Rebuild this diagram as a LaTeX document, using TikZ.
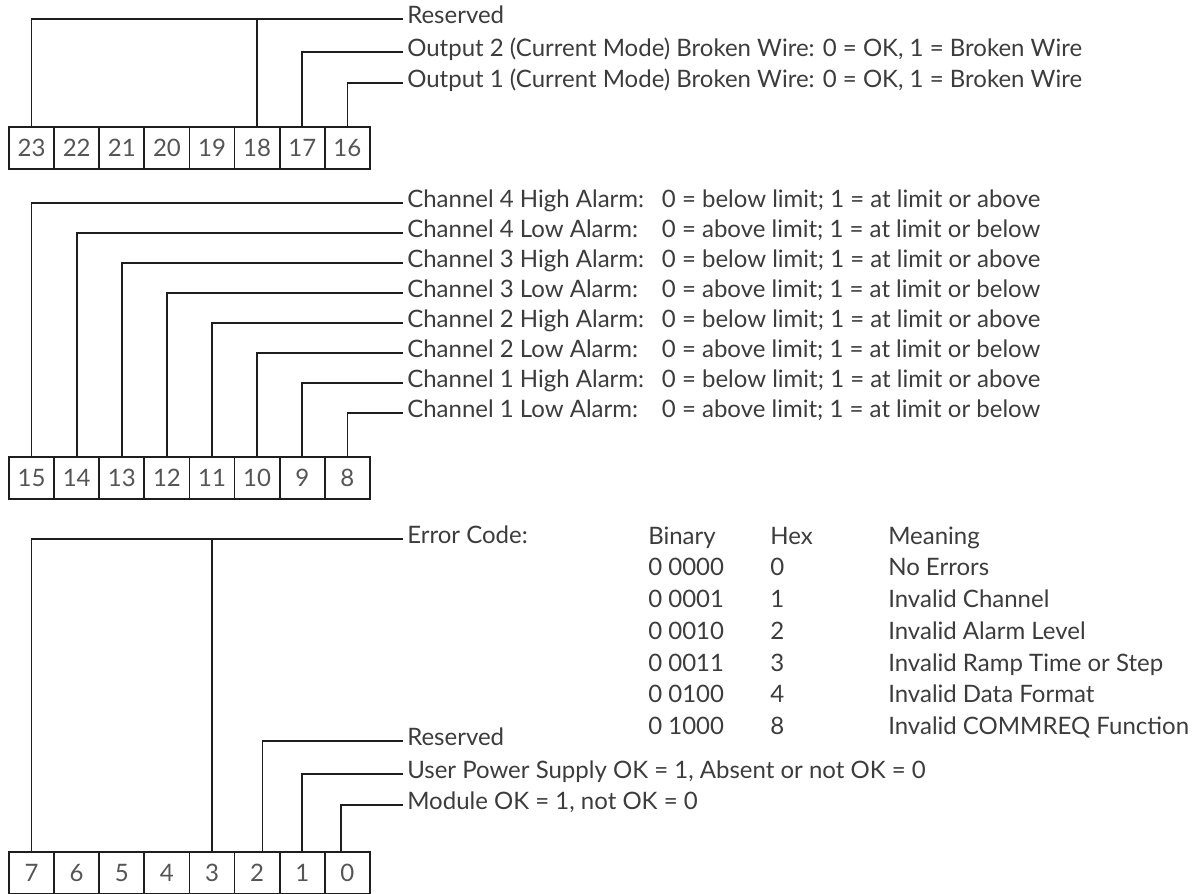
\documentclass[tikz,border=0pt]{standalone}
\usepackage{fontspec}
\setmainfont{Lato}
\usepackage{tikz}
\usetikzlibrary{positioning}
\definecolor{ctexto}{HTML}{3C3C3C}
\definecolor{clinea}{HTML}{1E1E1E}
\definecolor{cnum}{HTML}{555555}
\newcommand{\alarma}[2]{\makebox[191pt][l]{#1}#2}
\tikzset{
  bit/.style={rectangle, draw=clinea, line width=1.3pt, minimum width=33.84pt,
    minimum height=31.5pt, inner sep=0pt, outer sep=0pt, text=cnum,
    font=\fontsize{18}{20}\selectfont},
  etq/.style={anchor=west, inner sep=3pt, text=ctexto, text height=0.72em,
    text depth=0pt, font=\fontsize{18}{20}\selectfont},
  tabla/.style={anchor=west, inner sep=0pt, text=ctexto,
    font=\fontsize{18}{23.8pt}\selectfont},
  linea/.style={draw=clinea, line width=1.3pt},
}
\begin{document}
\begin{tikzpicture}[x=0.75pt, y=-0.75pt]
  \useasboundingbox (0,0) rectangle (1196,893);
  \node[bit, anchor=north west] (b23) at (9,127) {23};
  \node[bit, right=0pt of b23] (b22) {22}; \node[bit, right=0pt of b22] (b21) {21};
  \node[bit, right=0pt of b21] (b20) {20}; \node[bit, right=0pt of b20] (b19) {19};
  \node[bit, right=0pt of b19] (b18) {18}; \node[bit, right=0pt of b18] (b17) {17};
  \node[bit, right=0pt of b17] (b16) {16};
  \node[etq] (l23) at (403,19) {Reserved};
  \node[etq] (l17) at (403,52) {Output 2 (Current Mode) Broken Wire: 0 = OK, 1 = Broken Wire};
  \node[etq] (l16) at (403,83) {Output 1 (Current Mode) Broken Wire: 0 = OK, 1 = Broken Wire};
  \draw[linea] (b23.north) |- (l23.west); \draw[linea] (b18.north) -- (b18.north |- l23.west);
  \draw[linea] (b17.north) |- (l17.west); \draw[linea] (b16.north) |- (l16.west);

  \node[bit, anchor=north west] (b15) at (9,457) {15};
  \node[bit, right=0pt of b15] (b14) {14}; \node[bit, right=0pt of b14] (b13) {13};
  \node[bit, right=0pt of b13] (b12) {12}; \node[bit, right=0pt of b12] (b11) {11};
  \node[bit, right=0pt of b11] (b10) {10}; \node[bit, right=0pt of b10] (b9) {9};
  \node[bit, right=0pt of b9] (b8) {8};
  \node[etq] (l15) at (403,203) {\alarma{Channel 4 High Alarm:}{0 = below limit; 1 = at limit or above}};
  \node[etq] (l14) at (403,233) {\alarma{Channel 4 Low Alarm:}{0 = above limit; 1 = at limit or below}};
  \node[etq] (l13) at (403,263) {\alarma{Channel 3 High Alarm:}{0 = below limit; 1 = at limit or above}};
  \node[etq] (l12) at (403,293) {\alarma{Channel 3 Low Alarm:}{0 = above limit; 1 = at limit or below}};
  \node[etq] (l11) at (403,323) {\alarma{Channel 2 High Alarm:}{0 = below limit; 1 = at limit or above}};
  \node[etq] (l10) at (403,353) {\alarma{Channel 2 Low Alarm:}{0 = above limit; 1 = at limit or below}};
  \node[etq] (l9) at (403,383) {\alarma{Channel 1 High Alarm:}{0 = below limit; 1 = at limit or above}};
  \node[etq] (l8) at (403,413) {\alarma{Channel 1 Low Alarm:}{0 = above limit; 1 = at limit or below}};
  \draw[linea] (b15.north) |- (l15.west); \draw[linea] (b14.north) |- (l14.west);
  \draw[linea] (b13.north) |- (l13.west); \draw[linea] (b12.north) |- (l12.west);
  \draw[linea] (b11.north) |- (l11.west); \draw[linea] (b10.north) |- (l10.west);
  \draw[linea] (b9.north) |- (l9.west); \draw[linea] (b8.north) |- (l8.west);

  \node[bit, anchor=north west] (b7) at (9,852) {7};
  \node[bit, right=0pt of b7] (b6) {6}; \node[bit, right=0pt of b6] (b5) {5};
  \node[bit, right=0pt of b5] (b4) {4}; \node[bit, right=0pt of b4] (b3) {3};
  \node[bit, right=0pt of b3] (b2) {2}; \node[bit, right=0pt of b2] (b1) {1};
  \node[bit, right=0pt of b1] (b0) {0};
  \node[etq] (lerr) at (403,539) {Error Code:};
  \node[tabla] (codigos) at (648,633) {%
    \begin{tabular}{@{}p{91.5pt}@{}p{88.5pt}@{}l@{}}
      Binary & Hex & Meaning\\
      0 0000 & 0 & No Errors\\
      0 0001 & 1 & Invalid Channel\\
      0 0010 & 2 & Invalid Alarm Level\\
      0 0011 & 3 & Invalid Ramp Time or Step\\
      0 0100 & 4 & Invalid Data Format\\
      0 1000 & 8 & Invalid COMMREQ Function
    \end{tabular}};
  \node[etq] (l2) at (403,741) {Reserved};
  \node[etq] (l1) at (403,774) {User Power Supply OK = 1, Absent or not OK = 0};
  \node[etq] (l0) at (403,805) {Module OK = 1, not OK = 0};
  \draw[linea] (b7.north) |- (lerr.west); \draw[linea] (b3.north) -- (b3.north |- lerr.west);
  \draw[linea] ([xshift=4.1pt]b2.north) |- (l2.west); \draw[linea] (b1.north) |- (l1.west);
  \draw[linea] ([xshift=-4.9pt]b0.north) |- (l0.west);
\end{tikzpicture}
\end{document}
